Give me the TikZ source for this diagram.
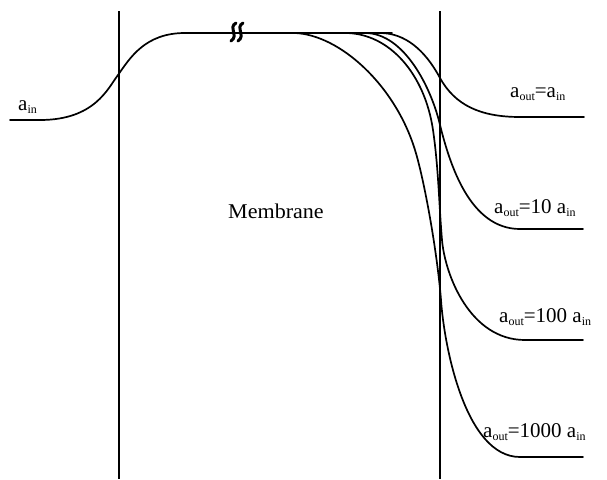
\documentclass[tikz,border=0pt]{standalone}
\usepackage{fontspec}
\setmainfont{Liberation Serif}
\newcommand{\sbx}[1]{\raisebox{-0.35ex}{\fontsize{12}{12}\selectfont #1}}
\tikzset{
  curve/.style={line width=1.7pt, line cap=round, line join=round},
  wall/.style={line width=1.5pt},
  brk/.style={line width=3pt, line cap=round},
  lab/.style={anchor=base west, inner sep=0pt, font=\fontsize{21}{21}\selectfont}
}
\begin{document}
\begin{tikzpicture}[x=1pt,y=-1pt]
\useasboundingbox (0,0) rectangle (607,479);
% membrane walls
\coordinate (lt) at (119,11); \coordinate (lb) at (119,479);
\coordinate (rt) at (440,11); \coordinate (rb) at (440,479);
\draw[wall] (lt) -- (lb);
\draw[wall] (rt) -- (rb);
% inlet profile and plateau
\draw[curve] (10,120) -- (40,120) .. controls (95,120) and (108,88) .. (118,75)
  .. controls (130,58) and (145,33) .. (185,33) -- (392,33);
% break mark
\draw[brk] (236,23) .. controls (228,27) and (239,36) .. (231,41);
\draw[brk] (243,23) .. controls (235,27) and (246,36) .. (238,41);
% branches
\draw[curve] (380,33) .. controls (405,33) and (425,50) .. (440,78)
  .. controls (455,105) and (480,117) .. (520,117) -- (584,117);
\draw[curve] (365,33) .. controls (405,33) and (432,90) .. (440,125)
  .. controls (450,165) and (470,229) .. (520,229) -- (583,229);
\draw[curve] (345,33) .. controls (390,33) and (425,75) .. (433,130)
  .. controls (438.6,168.5) and (439,205) .. (442,240)
  .. controls (445,275) and (470,340) .. (525,340) -- (583,340);
\draw[curve] (295,33) .. controls (340,35) and (395,85) .. (415,150)
  .. controls (424,179) and (437,250) .. (441,300)
  .. controls (444,345) and (465,457) .. (520,457) -- (583,457);
% labels
\node[lab] (ain) at (18,110) {a\sbx{in}};
\node[anchor=base, inner sep=0pt, font=\fontsize{21}{21}\selectfont] (mem) at (276,218) {\scalebox{1.05}[1]{Membrane}};
\node[lab] (l1) at (510,97) {a\sbx{out}=a\sbx{in}};
\node[lab] (l2) at (494,213) {a\sbx{out}=10 a\sbx{in}};
\node[lab] (l3) at (499,322) {a\sbx{out}=100 a\sbx{in}};
\node[lab] (l4) at (483,437) {a\sbx{out}=1000 a\sbx{in}};
\end{tikzpicture}
\end{document}
